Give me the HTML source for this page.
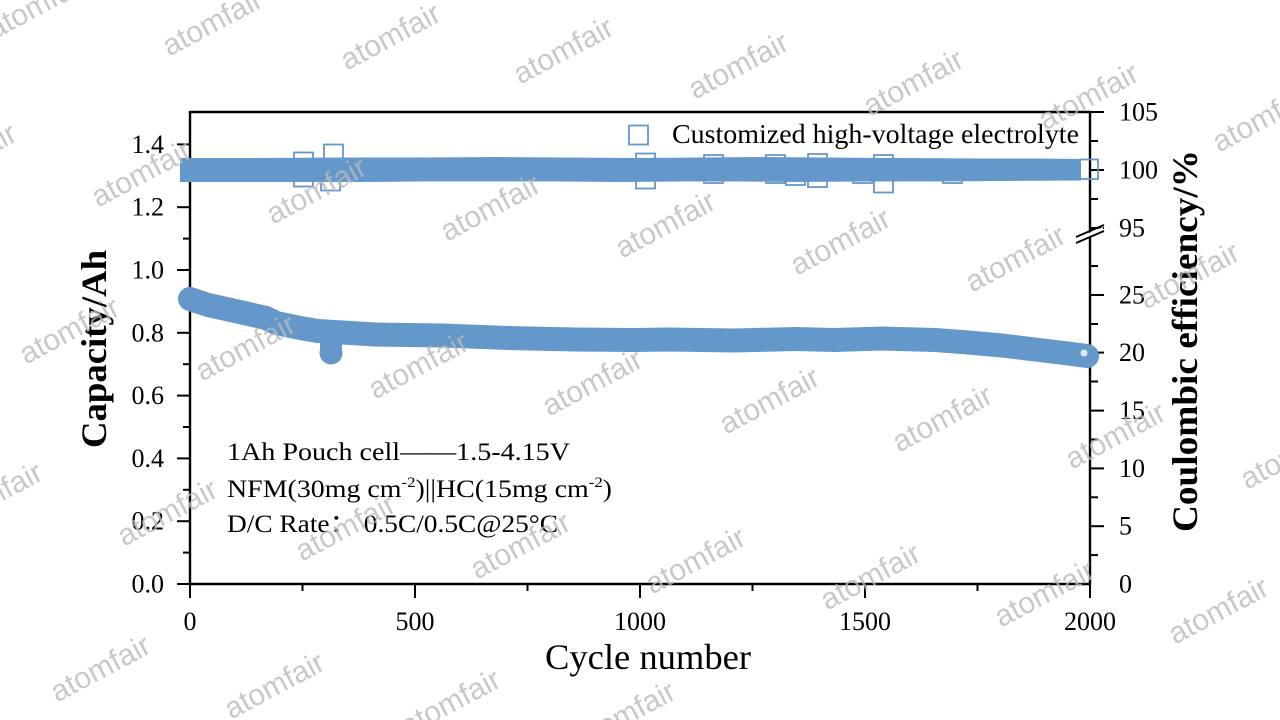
<!DOCTYPE html>
<html>
<head>
<meta charset="utf-8">
<style>
html,body{margin:0;padding:0;background:#fff;width:1280px;height:720px;overflow:hidden;}
svg{display:block;overflow:hidden;}
</style>
</head>
<body>
<svg width="1280" height="720" viewBox="0 0 1280 720" xmlns="http://www.w3.org/2000/svg">
<rect x="0" y="0" width="1280" height="720" fill="#ffffff"/>

<!-- Axes frame -->
<g stroke="#000" stroke-width="2.4" fill="none">
  <line x1="190" y1="112" x2="1090" y2="112"/>
  <line x1="190" y1="111" x2="190" y2="585"/>
  <line x1="189" y1="584" x2="1091" y2="584"/>
  <line x1="1090" y1="111" x2="1090" y2="585"/>
</g>

<!-- Left ticks -->
<g stroke="#000" stroke-width="2" fill="none">
  <line x1="177" y1="584" x2="190" y2="584"/>
  <line x1="183" y1="552.6" x2="190" y2="552.6"/>
  <line x1="177" y1="521.2" x2="190" y2="521.2"/>
  <line x1="183" y1="489.8" x2="190" y2="489.8"/>
  <line x1="177" y1="458.4" x2="190" y2="458.4"/>
  <line x1="183" y1="427" x2="190" y2="427"/>
  <line x1="177" y1="395.6" x2="190" y2="395.6"/>
  <line x1="183" y1="364.2" x2="190" y2="364.2"/>
  <line x1="177" y1="332.8" x2="190" y2="332.8"/>
  <line x1="183" y1="301.4" x2="190" y2="301.4"/>
  <line x1="177" y1="270" x2="190" y2="270"/>
  <line x1="183" y1="238.6" x2="190" y2="238.6"/>
  <line x1="177" y1="207.2" x2="190" y2="207.2"/>
  <line x1="183" y1="175.8" x2="190" y2="175.8"/>
  <line x1="177" y1="144.4" x2="190" y2="144.4"/>
</g>

<!-- Bottom ticks -->
<g stroke="#000" stroke-width="2" fill="none">
  <line x1="190" y1="584" x2="190" y2="598"/>
  <line x1="302.5" y1="584" x2="302.5" y2="591"/>
  <line x1="415" y1="584" x2="415" y2="598"/>
  <line x1="527.5" y1="584" x2="527.5" y2="591"/>
  <line x1="640" y1="584" x2="640" y2="598"/>
  <line x1="752.5" y1="584" x2="752.5" y2="591"/>
  <line x1="865" y1="584" x2="865" y2="598"/>
  <line x1="977.5" y1="584" x2="977.5" y2="591"/>
  <line x1="1090" y1="584" x2="1090" y2="598"/>
</g>

<!-- Right ticks -->
<g stroke="#000" stroke-width="2" fill="none">
  <line x1="1090" y1="112" x2="1104" y2="112"/>
  <line x1="1090" y1="141" x2="1098" y2="141"/>
  <line x1="1090" y1="170" x2="1104" y2="170"/>
  <line x1="1090" y1="199" x2="1098" y2="199"/>
  <line x1="1090" y1="228" x2="1104" y2="228"/>
  <line x1="1090" y1="266" x2="1098" y2="266"/>
  <line x1="1090" y1="295" x2="1104" y2="295"/>
  <line x1="1090" y1="324" x2="1098" y2="324"/>
  <line x1="1090" y1="352.6" x2="1104" y2="352.6"/>
  <line x1="1090" y1="381.5" x2="1098" y2="381.5"/>
  <line x1="1090" y1="410.6" x2="1104" y2="410.6"/>
  <line x1="1090" y1="439.5" x2="1098" y2="439.5"/>
  <line x1="1090" y1="468.4" x2="1104" y2="468.4"/>
  <line x1="1090" y1="497.3" x2="1098" y2="497.3"/>
  <line x1="1090" y1="526.2" x2="1104" y2="526.2"/>
  <line x1="1090" y1="555.1" x2="1098" y2="555.1"/>
</g>
<!-- axis break -->
<polygon points="1077,238 1103,227 1103,231 1077,242" fill="#fff"/>
<g stroke="#000" stroke-width="2">
  <line x1="1076" y1="237" x2="1104" y2="225"/>
  <line x1="1076" y1="243" x2="1104" y2="231"/>
</g>

<!-- Tick labels -->
<g font-family="'Liberation Serif', serif" font-size="26" fill="#000">
  <g text-anchor="end">
    <text x="164" y="592.5">0.0</text>
    <text x="164" y="529.7">0.2</text>
    <text x="164" y="466.9">0.4</text>
    <text x="164" y="404.1">0.6</text>
    <text x="164" y="341.3">0.8</text>
    <text x="164" y="278.5">1.0</text>
    <text x="164" y="215.7">1.2</text>
    <text x="164" y="152.9">1.4</text>
  </g>
  <g text-anchor="middle">
    <text x="190" y="630">0</text>
    <text x="415" y="630">500</text>
    <text x="640" y="630">1000</text>
    <text x="865" y="630">1500</text>
    <text x="1090" y="630">2000</text>
  </g>
  <g text-anchor="start">
    <text x="1119" y="120.5">105</text>
    <text x="1119" y="178.5">100</text>
    <text x="1119" y="236.5">95</text>
    <text x="1119" y="303.5">25</text>
    <text x="1119" y="361">20</text>
    <text x="1119" y="419">15</text>
    <text x="1119" y="477">10</text>
    <text x="1119" y="534.7">5</text>
    <text x="1119" y="592.5">0</text>
  </g>
</g>

<!-- Axis titles -->
<text x="648" y="669" font-family="'Liberation Serif', serif" font-size="36" text-anchor="middle" textLength="206" lengthAdjust="spacingAndGlyphs">Cycle number</text>
<text transform="translate(106,349) rotate(-90)" font-family="'Liberation Serif', serif" font-weight="bold" font-size="36" text-anchor="middle" textLength="198" lengthAdjust="spacingAndGlyphs">Capacity/Ah</text>
<text transform="translate(1197,341) rotate(-90)" font-family="'Liberation Serif', serif" font-weight="bold" font-size="36" text-anchor="middle" textLength="382" lengthAdjust="spacingAndGlyphs">Coulombic efficiency/%</text>

<!-- Legend -->
<rect x="629" y="125.5" width="19" height="19" fill="none" stroke="#6498CA" stroke-width="1.8"/>
<text x="672" y="143" font-family="'Liberation Serif', serif" font-size="27" textLength="407" lengthAdjust="spacingAndGlyphs">Customized high-voltage electrolyte</text>

<!-- Annotations -->
<g font-family="'Liberation Serif', 'Noto Serif CJK SC', serif" font-size="25" fill="#000">
  <text x="227" y="460" textLength="343" lengthAdjust="spacingAndGlyphs">1Ah Pouch cell——1.5-4.15V</text>
  <text x="227" y="497" textLength="385" lengthAdjust="spacingAndGlyphs">NFM(30mg cm<tspan font-size="15" dy="-10">-2</tspan><tspan dy="10">)||HC(15mg cm</tspan><tspan font-size="15" dy="-10">-2</tspan><tspan dy="10">)</tspan></text>
  <text x="227" y="532" textLength="331" lengthAdjust="spacingAndGlyphs">D/C Rate<tspan font-family="'Noto Sans CJK SC', sans-serif">：</tspan> 0.5C/0.5C@25°C</text>
</g>

<!-- CE outlier squares -->
<g fill="none" stroke="#6498CA" stroke-width="1.8">
  <rect x="294" y="152.5" width="19" height="19"/>
  <rect x="294" y="167.5" width="19" height="19"/>
  <rect x="324" y="144.5" width="19" height="19"/>
  <rect x="321" y="171.5" width="19" height="19"/>
  <rect x="636" y="153.5" width="19" height="19"/>
  <rect x="636" y="169.5" width="19" height="19"/>
  <rect x="704" y="155" width="19" height="19"/>
  <rect x="704" y="164" width="19" height="19"/>
  <rect x="766" y="155" width="19" height="19"/>
  <rect x="766" y="164" width="19" height="19"/>
  <rect x="786" y="166" width="19" height="19"/>
  <rect x="808" y="154" width="19" height="19"/>
  <rect x="808" y="168" width="19" height="19"/>
  <rect x="853" y="164" width="19" height="19"/>
  <rect x="874" y="155" width="19" height="19"/>
  <rect x="874" y="173.5" width="19" height="19"/>
  <rect x="943" y="164" width="19" height="19"/>
</g>
<!-- CE dense band -->
<polygon fill="#6498CA" points="180,158 260,158 340,157.5 420,157.5 500,157 560,157.5 640,158 700,157.5 760,157 820,157.5 900,158 980,158.5 1040,158.5 1081,159 1081,180.5 1000,181 930,181.5 860,181.5 800,182 740,181.5 680,181.5 620,182 560,181.5 480,181.5 420,181.5 360,182 300,182 240,182 180,182"/>
<rect x="1079.5" y="159.5" width="18.5" height="19.5" fill="none" stroke="#6498CA" stroke-width="1.8"/>

<!-- Capacity band -->
<polyline fill="none" stroke="#6498CA" stroke-width="24" stroke-linecap="round" stroke-linejoin="round"
 points="190,299 208,305 242,312.5 266,318 276,323 300,328 318,331 375,334.5 442,335.5 508,338 575,339.5 635,340 668,339.5 735,340.5 795,339 835,340 882,338.5 935,340 968,342.5 1002,345.5 1035,349.5 1068,353.5 1087,356"/>
<rect x="320" y="332" width="22" height="21" fill="#6498CA"/>
<circle cx="331" cy="353" r="11.5" fill="#6498CA"/>
<circle cx="1084" cy="353" r="3.5" fill="#dfe8f2"/>

<!-- Watermarks -->
<g font-family="'Liberation Sans', sans-serif" font-size="30" fill="rgb(185,185,185)" fill-opacity="0.78" text-anchor="middle">
  <text transform="translate(37,5) rotate(-28)" dy="0.35em">atomfair</text>
  <text transform="translate(212,22) rotate(-28)" dy="0.35em">atomfair</text>
  <text transform="translate(390,36) rotate(-28)" dy="0.35em">atomfair</text>
  <text transform="translate(563,50) rotate(-28)" dy="0.35em">atomfair</text>
  <text transform="translate(738,65) rotate(-28)" dy="0.35em">atomfair</text>
  <text transform="translate(913,82) rotate(-28)" dy="0.35em">atomfair</text>
  <text transform="translate(1088,96) rotate(-28)" dy="0.35em">atomfair</text>
  <text transform="translate(1262,118) rotate(-28)" dy="0.35em">atomfair</text>

  <text transform="translate(-34,156) rotate(-28)" dy="0.35em">atomfair</text>
  <text transform="translate(141,173) rotate(-28)" dy="0.35em">atomfair</text>
  <text transform="translate(316,190) rotate(-28)" dy="0.35em">atomfair</text>
  <text transform="translate(490,207) rotate(-28)" dy="0.35em">atomfair</text>
  <text transform="translate(665,224) rotate(-28)" dy="0.35em">atomfair</text>
  <text transform="translate(840,241) rotate(-28)" dy="0.35em">atomfair</text>
  <text transform="translate(1015,258) rotate(-28)" dy="0.35em">atomfair</text>
  <text transform="translate(1189,275) rotate(-28)" dy="0.35em">atomfair</text>

  <text transform="translate(69,330) rotate(-28)" dy="0.35em">atomfair</text>
  <text transform="translate(245,347) rotate(-28)" dy="0.35em">atomfair</text>
  <text transform="translate(418,365) rotate(-28)" dy="0.35em">atomfair</text>
  <text transform="translate(592,382) rotate(-28)" dy="0.35em">atomfair</text>
  <text transform="translate(769,400) rotate(-28)" dy="0.35em">atomfair</text>
  <text transform="translate(942,418) rotate(-28)" dy="0.35em">atomfair</text>
  <text transform="translate(1115,435) rotate(-28)" dy="0.35em">atomfair</text>
  <text transform="translate(1290,455) rotate(-28)" dy="0.35em">atomfair</text>

  <text transform="translate(-8,495) rotate(-28)" dy="0.35em">atomfair</text>
  <text transform="translate(167,512) rotate(-28)" dy="0.35em">atomfair</text>
  <text transform="translate(345,527) rotate(-28)" dy="0.35em">atomfair</text>
  <text transform="translate(520,545) rotate(-28)" dy="0.35em">atomfair</text>
  <text transform="translate(695,560) rotate(-28)" dy="0.35em">atomfair</text>
  <text transform="translate(870,576) rotate(-28)" dy="0.35em">atomfair</text>
  <text transform="translate(1044,593) rotate(-28)" dy="0.35em">atomfair</text>
  <text transform="translate(1218,610) rotate(-28)" dy="0.35em">atomfair</text>

  <text transform="translate(100,668) rotate(-28)" dy="0.35em">atomfair</text>
  <text transform="translate(274,685) rotate(-28)" dy="0.35em">atomfair</text>
  <text transform="translate(450,702) rotate(-28)" dy="0.35em">atomfair</text>
  <text transform="translate(625,714) rotate(-28)" dy="0.35em">atomfair</text>
</g>
</svg>
</body>
</html>
